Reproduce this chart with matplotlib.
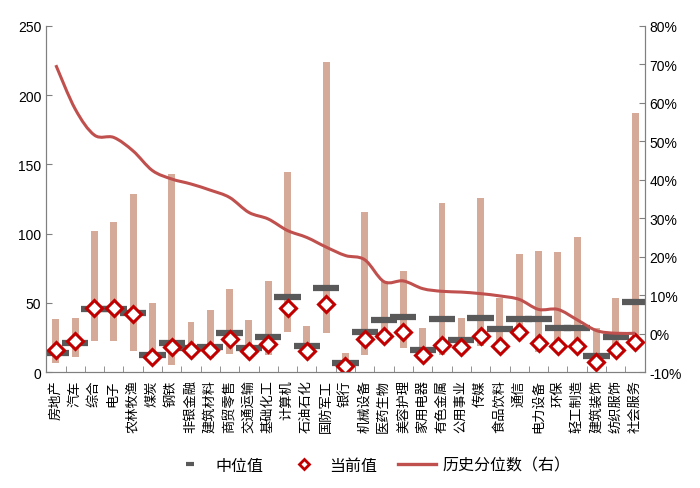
import matplotlib

matplotlib.use("Agg")
import matplotlib.pyplot as plt
import numpy as np
from matplotlib.lines import Line2D
from matplotlib.patches import PathPatch
from matplotlib.path import Path

plt.rcParams["font.family"] = ["Liberation Sans", "Noto Sans CJK SC"]

industries = [
    "房地产", "汽车", "综合", "电子", "农林牧渔", "煤炭", "钢铁", "非银金融", "建筑材料", "商贸零售",
    "交通运输", "基础化工", "计算机", "石油石化", "国防军工", "银行", "机械设备", "医药生物", "美容护理",
    "家用电器", "有色金属", "公用事业", "传媒", "食品饮料", "通信", "电力设备", "环保", "轻工制造",
    "建筑装饰", "纺织服饰", "社会服务",
]
range_high = [38.0, 39.2, 102.2, 108.2, 128.6, 49.8, 143.0, 36.4, 44.5, 60.1,
              37.7, 66.1, 144.2, 33.2, 223.6, 13.7, 115.4, 65.5, 72.9,
              32.0, 122.4, 39.4, 125.7, 53.4, 85.1, 87.2, 86.8, 97.7,
              32.0, 53.3, 187.4]
range_low = [6.3, 10.6, 22.6, 22.6, 15.2, 8.2, 5.3, 13.0, 9.9, 13.0,
             10.6, 12.3, 29.1, 12.0, 28.1, 3.5, 12.7, 23.0, 17.5,
             11.8, 12.3, 14.0, 19.0, 20.0, 27.0, 14.2, 15.0, 15.0,
             7.0, 18.0, 24.0]
median_val = [13.9, 21.2, 45.7, 45.7, 42.8, 12.3, 21.2, 17.5, 17.8, 28.6,
              17.5, 25.7, 54.3, 18.5, 60.8, 6.5, 29.1, 37.4, 39.6,
              15.9, 38.2, 22.9, 39.2, 31.0, 38.2, 38.2, 31.7, 31.7,
              11.8, 25.0, 50.4]
current_val = [16.3, 22.6, 46.6, 46.2, 41.8, 10.6, 17.8, 15.9, 15.9, 23.6,
               15.1, 20.2, 46.6, 14.9, 49.5, 4.7, 24.2, 26.3, 28.7,
               12.5, 19.6, 17.8, 25.9, 19.1, 29.2, 21.0, 18.5, 18.5,
               7.5, 15.9, 22.1]
hist_pct = [69.8, 58.4, 51.6, 51.0, 47.5, 42.4, 40.2, 38.9, 37.3, 35.4,
            31.5, 29.8, 26.8, 25.0, 22.5, 20.3, 19.2, 13.5, 13.7,
            11.7, 11.0, 10.8, 10.4, 9.8, 8.9, 6.3, 6.3, 3.6,
            0.8, 0.1, 0.1]


def smooth_path(xs, ys, k=1 / 6):
    # Excel-style smoothed line: cubic bezier through the points
    pts = np.column_stack([xs, ys]).astype(float)
    verts = [pts[0]]
    codes = [Path.MOVETO]
    n = len(pts)
    for i in range(n - 1):
        p0 = pts[max(i - 1, 0)]
        p1, p2 = pts[i], pts[i + 1]
        p3 = pts[min(i + 2, n - 1)]
        verts += [p1 + (p2 - p0) * k, p2 - (p3 - p1) * k, p2]
        codes += [Path.CURVE4] * 3
    return Path(verts, codes)


x = np.arange(len(industries))
low = np.array(range_low)
high = np.array(range_high)

fig = plt.figure(figsize=(7, 4.89), dpi=100)
ax = fig.add_axes([0.066, 0.237, 0.855, 0.708])
ax2 = ax.twinx()

ax.bar(x, high - low, bottom=low, width=0.36, color="#D6AA99", zorder=1)
ax.hlines(median_val, x - 0.68, x + 0.68, color="#595959", linewidth=4.5, zorder=2)
ax.plot(x, current_val, linestyle="none", marker="D", markersize=8,
        markerfacecolor="white", markeredgecolor="#C00000", markeredgewidth=2.2, zorder=3)

ax2.add_patch(PathPatch(smooth_path(x, hist_pct), facecolor="none", edgecolor="#C0504D",
                        linewidth=2.2, joinstyle="round", capstyle="butt"))

ax.set_xlim(-0.5, len(industries) - 0.5)
ax.set_ylim(0, 250)
ax.set_yticks(range(0, 251, 50))
ax2.set_ylim(-10, 80)
ax2.set_yticks(range(-10, 81, 10))
ax2.set_yticklabels([f"{v}%" for v in range(-10, 81, 10)])

ax.set_xticks(x)
ax.set_xticklabels(industries, rotation=90, fontsize=9.5)
ax.tick_params(axis="x", length=0, pad=5)
ax.set_xticks(np.arange(-0.5, len(industries), 1), minor=True)
ax.tick_params(axis="x", which="minor", direction="in", length=4, color="#808080")
ax.tick_params(axis="y", direction="in", length=4, color="#808080", labelsize=10)
ax2.tick_params(axis="y", direction="in", length=4, color="#808080", labelsize=10)

for a in (ax, ax2):
    a.spines["top"].set_visible(False)
    for s in ("left", "right", "bottom"):
        a.spines[s].set_color("#808080")

handles = [
    Line2D([], [], color="#595959", marker="_", linestyle="none", markersize=6, markeredgewidth=3),
    Line2D([], [], linestyle="none", marker="D", markersize=5, markerfacecolor="white",
           markeredgecolor="#C00000", markeredgewidth=2),
    Line2D([], [], color="#C0504D", linewidth=2.4),
]
fig.legend(handles, ["中位值", "当前值", "历史分位数（右）"], loc="center",
           bbox_to_anchor=(0.53, 0.047), ncol=3, frameon=False, fontsize=11.5,
           handlelength=2.4, handletextpad=0.4, columnspacing=1.3)

fig.savefig("out.png", dpi=100)
